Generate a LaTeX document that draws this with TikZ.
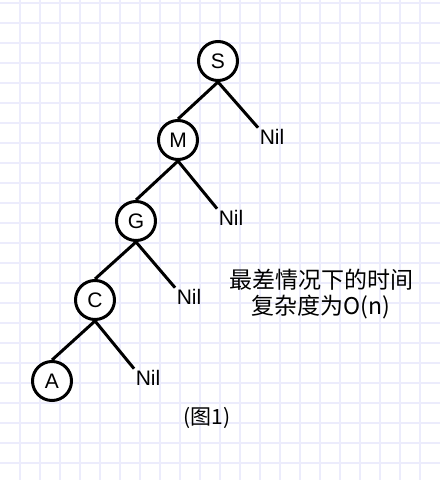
\documentclass[tikz,border=0pt]{standalone}
\usepackage{fontspec}
\setmainfont{Liberation Sans}
\newfontfamily\cjk{Noto Sans CJK SC}
\definecolor{gridblue}{RGB}{236,236,252}
\begin{document}
\begin{tikzpicture}[x=1pt,y=1pt,
  vertex/.style={circle,draw,line width=3pt,minimum size=39pt,inner sep=0pt,fill=white,font=\fontsize{21}{24}\selectfont},
  leaf/.style={inner sep=1.5pt,font=\fontsize{21}{24}\selectfont},
  branch/.style={line width=3pt},
  gridline/.style={draw=gridblue,line width=1.2pt}]
\useasboundingbox (0,0) rectangle (440,480);
\fill [white] (0,0) rectangle (440,480);
%grid = 20 x 20
\foreach \i in {1,2,...,21}
  \draw [gridline] (\i*20,0) -- (\i*20,480);
\foreach \i in {0,1,...,23}
  \draw [gridline] (0,477-\i*20) -- (440,477-\i*20);

\node [vertex] (S) at (218,419) {S};
\node [vertex] (M) at (178,340) {M};
\node [vertex] (G) at (136,259) {G};
\node [vertex] (C) at (95,180) {C};
\node [vertex] (A) at (52,99) {A};
\node [leaf] (nilS) at (272,343) {Nil};
\node [leaf] (nilM) at (231,262) {Nil};
\node [leaf] (nilG) at (189,183) {Nil};
\node [leaf] (nilC) at (148,102) {Nil};

\draw [branch] (S.south) -- (M.north);
\draw [branch] (S.south) -- (nilS.north west);
\draw [branch] (M.south) -- (G.north);
\draw [branch] (M.south) -- (nilM.north west);
\draw [branch] (G.south) -- (C.north);
\draw [branch] (G.south) -- (nilG.north west);
\draw [branch] (C.south) -- (A.north);
\draw [branch] (C.south) -- (nilC.north west);

\node [align=center,font=\cjk\fontsize{23}{26}\selectfont] (note) at (321,186) {最差情况下的时间\\复杂度为O(n)};
\node [font=\cjk\fontsize{21}{24}\selectfont] (caption) at (207,62) {(图1)};
\end{tikzpicture}
\end{document}
